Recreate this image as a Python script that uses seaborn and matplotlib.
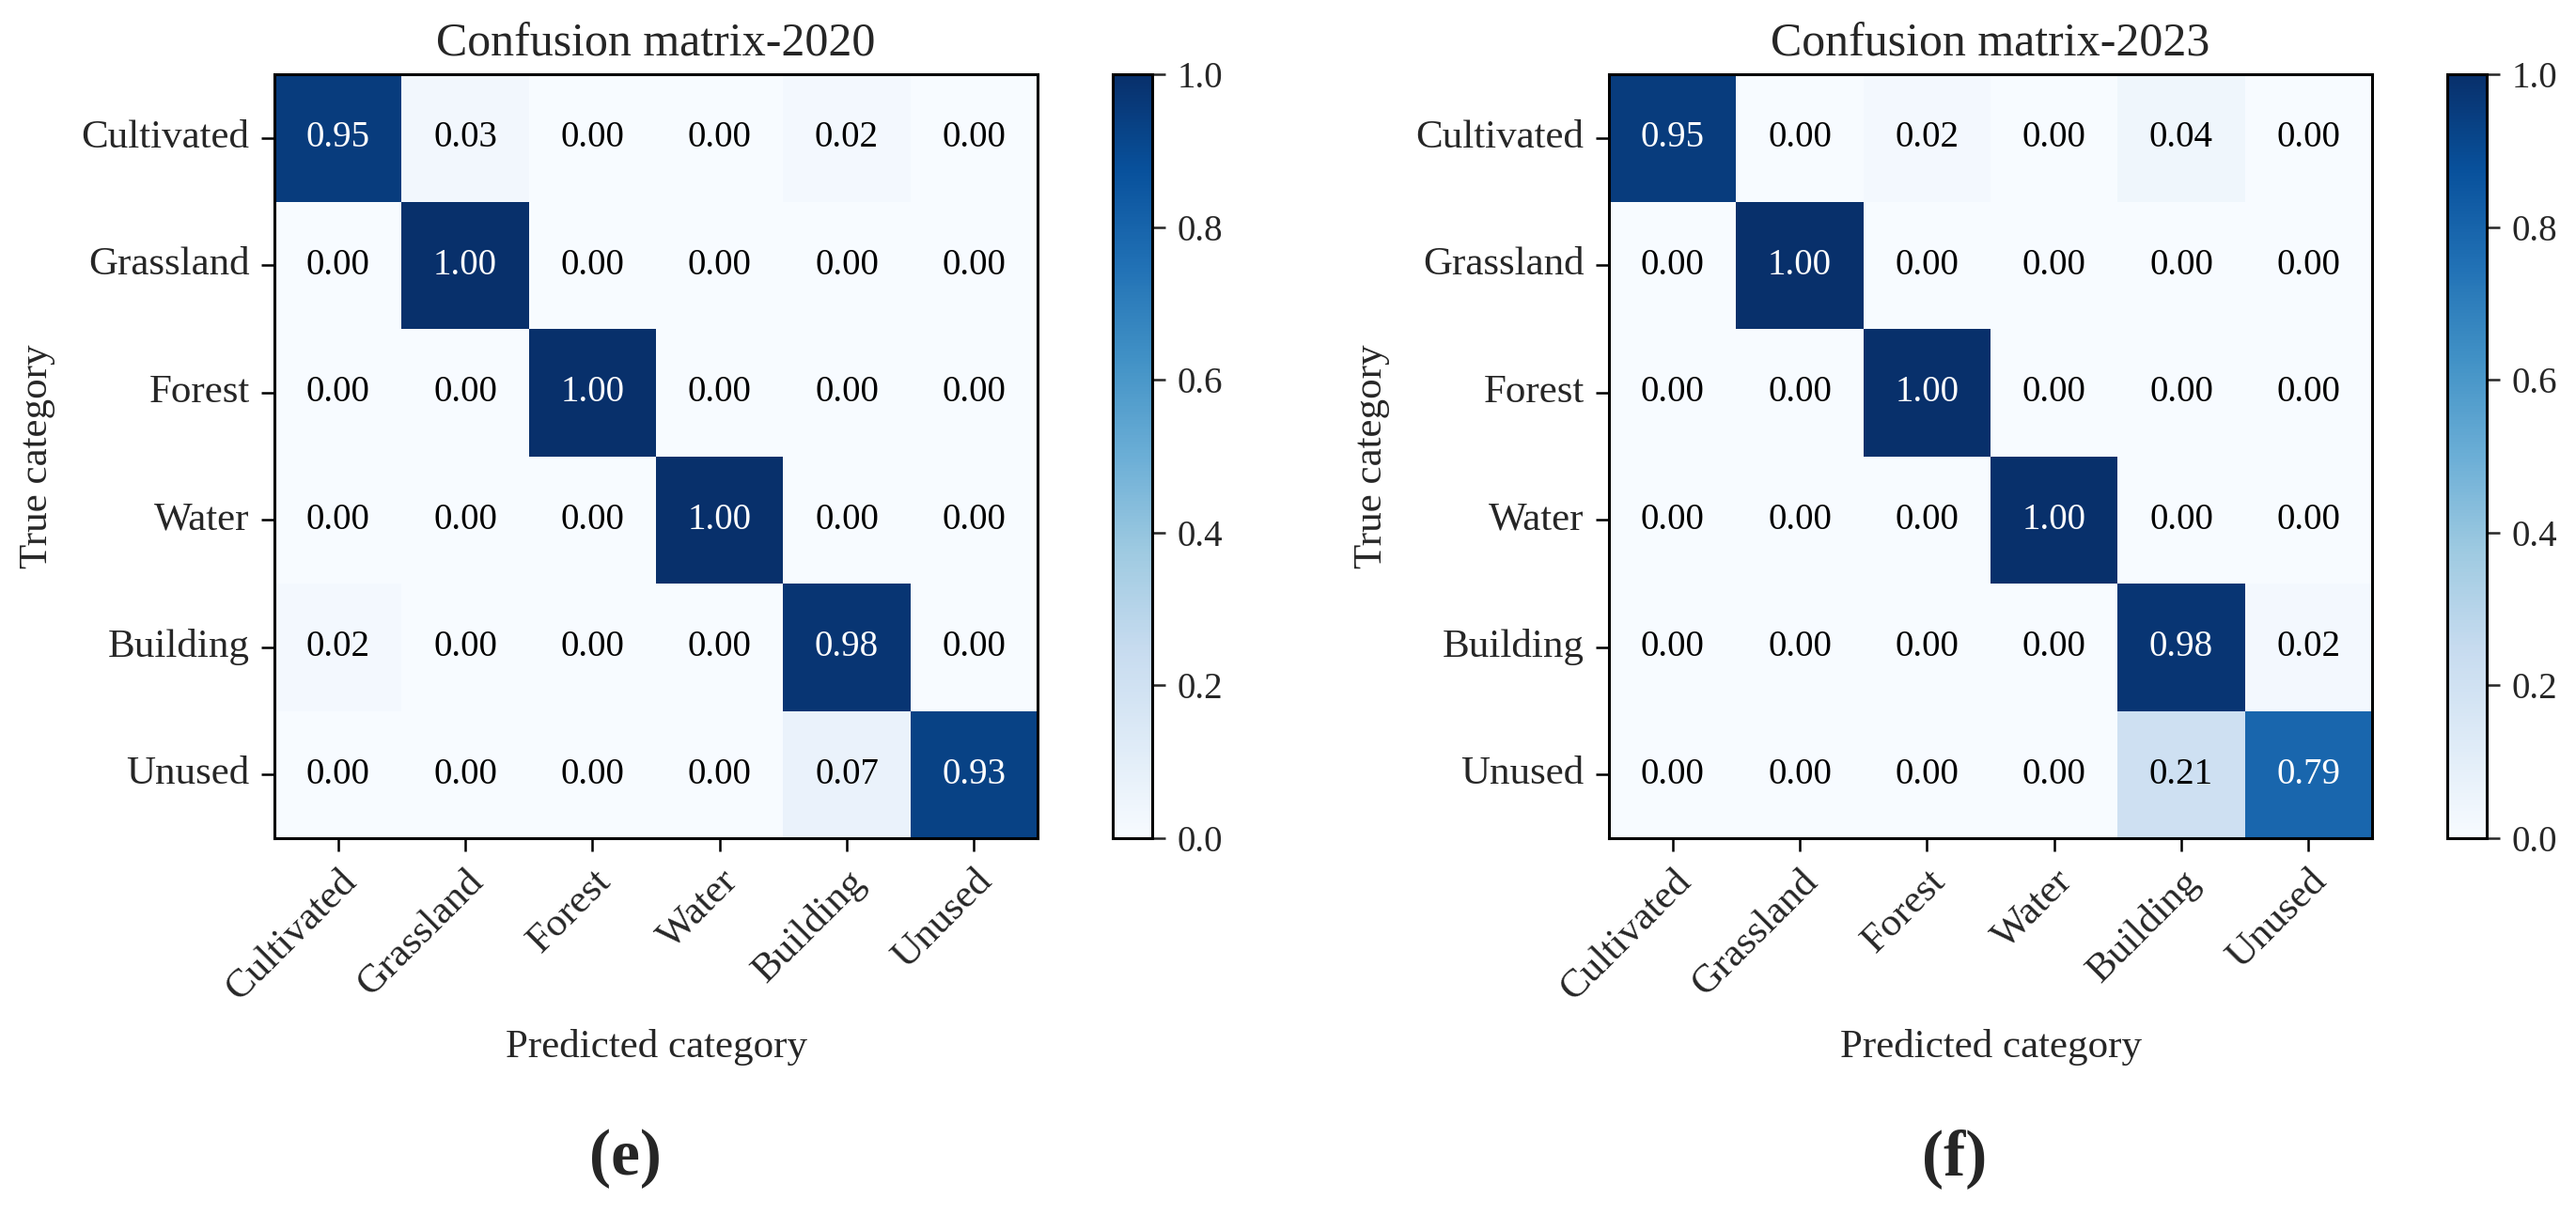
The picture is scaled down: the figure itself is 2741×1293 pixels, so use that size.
import numpy as np
import pandas as pd
import seaborn as sns
import matplotlib.pyplot as plt

# land cover classes
classes = ['Cultivated', 'Grassland', 'Forest', 'Water', 'Building', 'Unused']

# normalised confusion matrices (rows = true, cols = predicted)
cm_2020 = [
    [0.95, 0.03, 0.00, 0.00, 0.02, 0.00],
    [0.00, 1.00, 0.00, 0.00, 0.00, 0.00],
    [0.00, 0.00, 1.00, 0.00, 0.00, 0.00],
    [0.00, 0.00, 0.00, 1.00, 0.00, 0.00],
    [0.02, 0.00, 0.00, 0.00, 0.98, 0.00],
    [0.00, 0.00, 0.00, 0.00, 0.07, 0.93],
]
cm_2023 = [
    [0.95, 0.00, 0.02, 0.00, 0.04, 0.00],
    [0.00, 1.00, 0.00, 0.00, 0.00, 0.00],
    [0.00, 0.00, 1.00, 0.00, 0.00, 0.00],
    [0.00, 0.00, 0.00, 1.00, 0.00, 0.00],
    [0.00, 0.00, 0.00, 0.00, 0.98, 0.02],
    [0.00, 0.00, 0.00, 0.00, 0.21, 0.79],
]
titles = ['Confusion matrix-2020', 'Confusion matrix-2023']
panel_tags = ['(e)', '(f)']
cbar_ticks = [0.0, 0.2, 0.4, 0.6, 0.8, 1.0]

sns.set_style('white')
plt.rcParams['font.family'] = ['Liberation Serif', 'DejaVu Serif']

W, H = 2741, 1293
fig = plt.figure(figsize=(W / 100, H / 100), dpi=100)

# pixel boxes: heatmap left, colorbar left, tag x
boxes = [(292, 1184, 665), (1712, 2604, 2080)]
top, bottom = 79, 892
hw, hh = 812, bottom - top

for cm, title, tag, (hx, cx, tx) in zip([cm_2020, cm_2023], titles, panel_tags, boxes):
    df = pd.DataFrame(cm, index=classes, columns=classes)
    ax = fig.add_axes([hx / W, (H - bottom) / H, hw / W, hh / H])
    cax = fig.add_axes([cx / W, (H - bottom) / H, 42 / W, hh / H])
    sns.heatmap(df, ax=ax, cbar_ax=cax, cmap='Blues', vmin=0, vmax=1,
                annot=False, cbar_kws={'ticks': cbar_ticks})
    # annotations: white text on dark cells
    for i in range(len(classes)):
        for j in range(len(classes)):
            v = df.iloc[i, j]
            ax.text(j + 0.5, i + 0.5, f'{v:.2f}', ha='center', va='center',
                    fontsize=28, color='white' if v > 0.5 else 'black')
    for s in ax.spines.values():
        s.set_visible(True)
        s.set_linewidth(2.2)
        s.set_color('black')
    ax.set_title(title, fontsize=36, pad=14)
    ax.set_xlabel('Predicted category', fontsize=31)
    ax.set_ylabel('True category', fontsize=31)
    ax.xaxis.set_label_coords(0.5, -(1115 - bottom) / hh)
    ax.xaxis.label.set_verticalalignment('center')
    ax.yaxis.set_label_coords(-(hx - (hx - 252)) / hw, 0.5)
    ax.yaxis.label.set_verticalalignment('center')
    ax.tick_params(axis='both', which='major', length=10, width=1.8, pad=9,
                   labelsize=31, color='black', bottom=True, left=True)
    ax.set_yticklabels(classes, rotation=0)
    ax.set_xticklabels(classes, rotation=45, ha='right', rotation_mode='anchor')

    cbar = ax.collections[0].colorbar
    cbar.outline.set_visible(True)
    cbar.outline.set_linewidth(2.2)
    cbar.outline.set_edgecolor('black')
    cbar.ax.tick_params(length=10, width=1.8, pad=9, labelsize=28, right=True)
    cbar.ax.set_yticklabels([f'{t:.1f}' for t in cbar_ticks])

    fig.text(tx / W, 1 - 1233 / H, tag, ha='center', va='center',
             fontsize=50, fontweight='bold')

fig.savefig('out.png', dpi=100)
